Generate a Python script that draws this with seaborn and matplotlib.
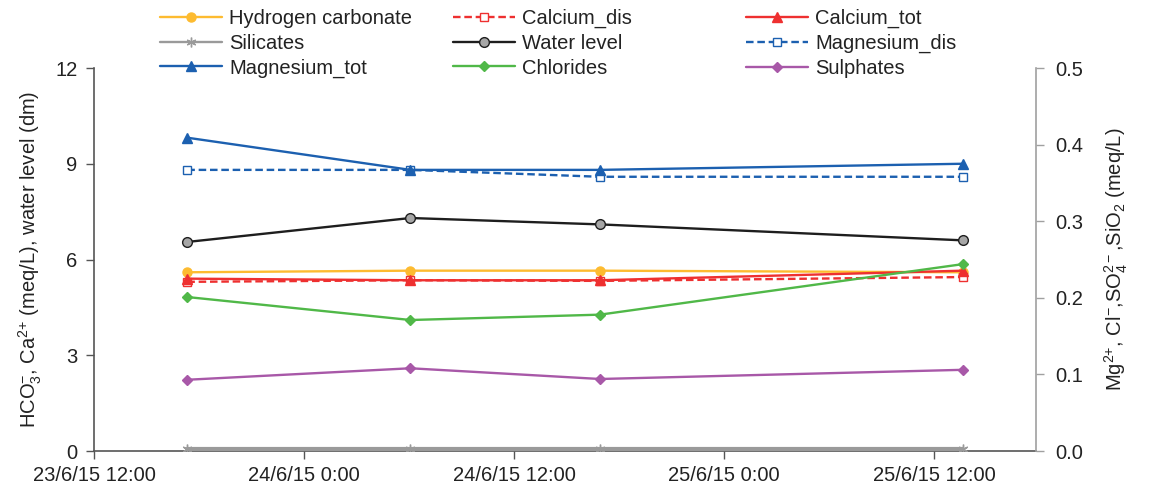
import matplotlib
matplotlib.use("Agg")
import matplotlib.pyplot as plt
import matplotlib.dates as mdates
from matplotlib.ticker import FuncFormatter, FixedLocator
import seaborn as sns
import pandas as pd

# ---- data ----
times = ["2015-06-23 17:20", "2015-06-24 06:05", "2015-06-24 16:55", "2015-06-25 13:40"]
hydrogen_carbonate = [5.60, 5.65, 5.65, 5.60]
calcium_dis = [5.30, 5.35, 5.33, 5.45]
calcium_tot = [5.40, 5.35, 5.35, 5.65]
water_level = [6.55, 7.30, 7.10, 6.60]
silicates = [0.002, 0.002, 0.002, 0.002]
magnesium_dis = [0.367, 0.367, 0.358, 0.358]
magnesium_tot = [0.409, 0.367, 0.367, 0.375]
chlorides = [0.201, 0.171, 0.178, 0.244]
sulphates = [0.093, 0.108, 0.094, 0.106]

left_ticks = [0, 3, 6, 9, 12]
right_ticks = [0.0, 0.1, 0.2, 0.3, 0.4, 0.5]

x = pd.to_datetime(times)

sns.set_style("white")
plt.rcParams["font.family"] = ["Liberation Sans", "DejaVu Sans"]
plt.rcParams["mathtext.fontset"] = "custom"
plt.rcParams["mathtext.rm"] = "Liberation Sans"
plt.rcParams["mathtext.it"] = "Liberation Sans"

FS = 14.5
TXT = "#222222"

fig = plt.figure(figsize=(11.66, 4.9), dpi=100)
ax = fig.add_axes([94/1166, 39/490, (1036-94)/1166, (451-68)/490])
ax2 = ax.twinx()

YEL = "#FDBB30"
RED = "#EE3030"
GRY = "#9A9A9A"
BLK = "#1E1E1E"
BLU = "#1C60B0"
GRN = "#50B848"
PUR = "#A858A8"

lw = 1.7
ms = 6.5

def line(a, y, label, color, marker, ls="-", mfc=None, mec=None, msz=ms, mew=1.0, z=3):
    sns.lineplot(x=x, y=y, ax=a, label=label, color=color, marker=marker,
                 linestyle=ls, linewidth=lw, markersize=msz,
                 markerfacecolor=mfc if mfc else color,
                 markeredgecolor=mec if mec else color, markeredgewidth=mew,
                 legend=False, zorder=z)

line(ax, hydrogen_carbonate, "Hydrogen carbonate", YEL, "o")
line(ax, calcium_dis, "Calcium_dis", RED, "s", ls=(0, (3.2, 1.6)), mfc="white", msz=6)
line(ax, calcium_tot, "Calcium_tot", RED, "^")
line(ax, water_level, "Water level", BLK, "o", mfc="#A6A6A6", mec=BLK, msz=7)
line(ax2, silicates, "Silicates", GRY, (6, 2, 0), msz=7, z=5)
line(ax2, magnesium_dis, "Magnesium_dis", BLU, "s", ls=(0, (3.2, 1.6)), mfc="white", msz=6)
line(ax2, magnesium_tot, "Magnesium_tot", BLU, "^", msz=7)
line(ax2, chlorides, "Chlorides", GRN, "D", msz=5.5)
line(ax2, sulphates, "Sulphates", PUR, "D", msz=5.5)

# axes
t0 = pd.Timestamp("2015-06-23 12:00")
t1 = pd.Timestamp("2015-06-25 17:50")
ax.set_xlim(t0, t1)
ticks = [t0 + pd.Timedelta(hours=12 * i) for i in range(5)]
ax.xaxis.set_major_locator(FixedLocator(mdates.date2num(ticks)))
ax.xaxis.set_major_formatter(FuncFormatter(
    lambda v, p: (lambda d: f"{d.day}/{d.month}/{d.strftime('%y')} {d.hour}:{d.minute:02d}")(mdates.num2date(v))))

ax.set_ylim(0, 12)
ax.set_yticks(left_ticks)
ax2.set_ylim(0, 0.5)
ax2.set_yticks(right_ticks)
ax2.yaxis.set_major_formatter(FuncFormatter(lambda v, p: f"{v:.1f}"))

for a in (ax, ax2):
    a.spines["top"].set_visible(False)
    a.grid(False)
ax.spines["right"].set_visible(False)
ax2.spines["left"].set_visible(False)
ax2.spines["bottom"].set_visible(False)
ax.spines["left"].set_color("#555555")
ax.spines["bottom"].set_color("#555555")
ax2.spines["right"].set_color("#A0A0A0")
for s in ("left", "bottom"):
    ax.spines[s].set_linewidth(1.2)
ax2.spines["right"].set_linewidth(1.2)

ax.tick_params(axis="both", direction="out", length=6, width=1, color="#555555",
               labelsize=FS, labelcolor=TXT, left=True, bottom=True)
ax.tick_params(axis="x", pad=5)
ax.tick_params(axis="y", pad=6)
ax2.tick_params(axis="y", direction="out", length=6, width=1, color="#A0A0A0",
                labelsize=FS, labelcolor=TXT, right=True, pad=8)

ax.set_xlabel("")
ax.set_ylabel(r"HCO$_3^{-}$, Ca$^{2{+}}$ (meq/L), water level (dm)", fontsize=FS, color=TXT, labelpad=8)
ax2.set_ylabel(r"Mg$^{2{+}}$, Cl$^{-}$,SO$_4^{2-}$,SiO$_2$ (meq/L)", fontsize=FS, color=TXT, labelpad=14)

# legend: three fixed columns, row-wise order as in the reference
hmap = {l.get_label(): l for l in ax.get_lines() + ax2.get_lines()}
columns = [["Hydrogen carbonate", "Silicates", "Magnesium_tot"],
           ["Calcium_dis", "Water level", "Chlorides"],
           ["Calcium_tot", "Magnesium_dis", "Sulphates"]]
col_x = [160, 453, 746]
for cx, names in zip(col_x, columns):
    leg = fig.legend([hmap[k] for k in names], names, ncol=1, loc="upper left",
                     bbox_to_anchor=(cx / 1166, 1 - 9 / 490), frameon=False, fontsize=FS,
                     handlelength=3.1, labelspacing=0.28, handletextpad=0.35,
                     borderpad=0.0, borderaxespad=0.0)
    for t in leg.get_texts():
        t.set_color(TXT)
    for h in leg.legend_handles:
        h.set_linewidth(lw)

for l in ax2.get_lines():
    if l.get_label() == "Silicates":
        l.set_linewidth(3.0)

fig.savefig("out.png", dpi=100)
